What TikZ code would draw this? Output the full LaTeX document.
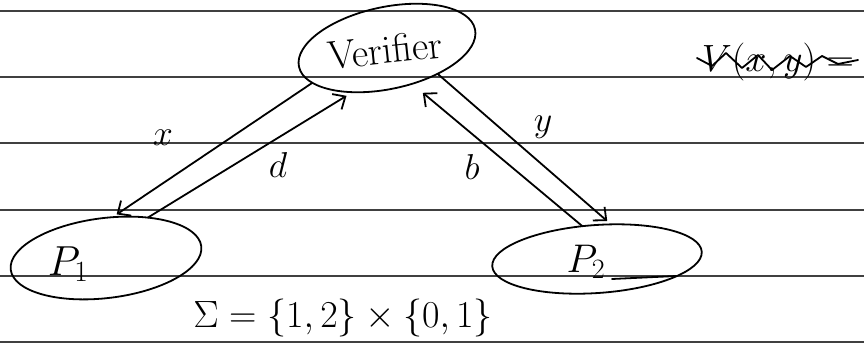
\RequirePackage{fix-cm}
\documentclass[tikz,border=0pt]{standalone}
\usetikzlibrary{shapes.geometric,arrows.meta}
\begin{document}
\begin{tikzpicture}[x=1pt,y=-1pt,
  ink/.style={line width=1.8pt, line cap=round, line join=round},
  rule/.style={black!75, line width=1.1pt},
  blob/.style={ellipse, draw, ink, inner sep=0pt, outer sep=0pt},
  msg/.style={ink, -{Straight Barb[length=10pt,width=18pt,line width=1.8pt]}},
  lbl/.style={inner sep=0pt, font=\fontsize{36}{36}\selectfont},
]
\useasboundingbox (0,0) rectangle (864,354);
\foreach \y in {11,77,143,210,276,342} \draw[rule] (0,\y) -- (864,\y);

% nodes
\node[blob, minimum width=180pt, minimum height=82pt, rotate=12] (V) at (387,48) {};
\node[lbl, rotate=6, font=\fontsize{40}{40}\selectfont] (Vt) at (385,50) {Verifier};
\node[blob, minimum width=192pt, minimum height=80pt, rotate=7] (P1) at (106,258) {};
\node[lbl, font=\fontsize{42}{42}\selectfont] (P1t) at (68,264) {$P_1$};
\node[blob, minimum width=210pt, minimum height=68pt, rotate=4] (P2) at (597,259) {};
\node[lbl, font=\fontsize{40}{40}\selectfont] (P2t) at (586,262) {$P_2$};
\draw[ink] (612,279) -- (676,276);

% connectors
\draw[msg, shorten >=5pt] (V.193) -- (P1.74);
\draw[msg, shorten >=7pt] (P1.37) -- (V.220);
\draw[msg, shorten >=14pt] (P2.110) -- (V.293);
\draw[msg, shorten >=5pt] (V.321) -- (P2.64);

% labels
\node[lbl] (lx) at (163,138) {$x$};
\node[lbl] (ld) at (278,165) {$d$};
\node[lbl] (lb) at (472,167) {$b$};
\node[lbl] (ly) at (543,127) {$y$};

\node[lbl, font=\fontsize{38}{38}\selectfont] (S) at (343,318) {$\Sigma=\{1,2\}\times\{0,1\}$};

% crossed-out text
\node[lbl, font=\fontsize{38}{38}\selectfont] (W) at (778,62) {$V(x,y)=$};
\draw[ink] (697,58) -- (712,66) -- (726,53) -- (742,68) -- (758,55) -- (772,70) -- (790,56) -- (806,67) -- (822,56) -- (838,64) -- (858,60);
\end{tikzpicture}
\end{document}
